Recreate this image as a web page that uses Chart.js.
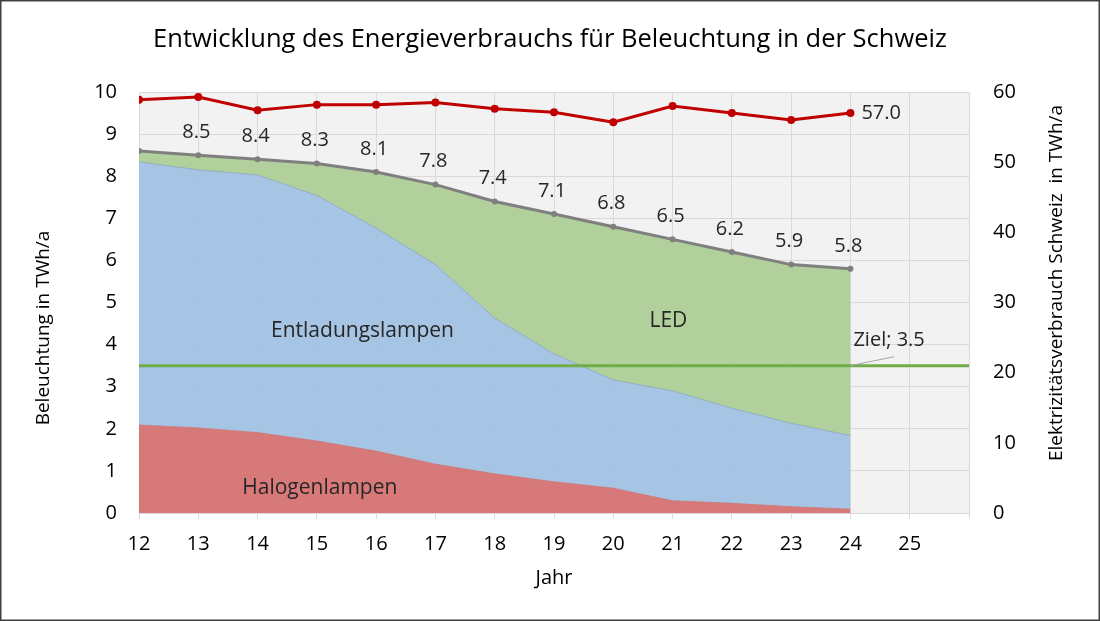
<!DOCTYPE html>
<html>
<head>
<meta charset="utf-8">
<script src="https://cdn.jsdelivr.net/npm/chart.js@4/dist/chart.umd.min.js"></script>
<style>
html,body{margin:0;padding:0;background:#fff;}
#wrap{width:1100px;height:621px;position:relative;}
canvas{display:block;}
</style>
</head>
<body>
<div id="wrap"><canvas id="c" width="1100" height="621"></canvas></div>
<script>
const FONT = "'Open Sans'";
const title = "Entwicklung des Energieverbrauchs für Beleuchtung in der Schweiz";
const years = [12, 13, 14, 15, 16, 17, 18, 19, 20, 21, 22, 23, 24];
const halogen = [2.09, 2.02, 1.91, 1.71, 1.47, 1.16, 0.93, 0.74, 0.59, 0.29, 0.23, 0.15, 0.09];
const entladung = [6.25, 6.13, 6.12, 5.83, 5.30, 4.74, 3.70, 3.04, 2.57, 2.61, 2.26, 1.98, 1.75];
const led = [0.26, 0.35, 0.37, 0.76, 1.33, 1.90, 2.77, 3.32, 3.64, 3.60, 3.71, 3.77, 3.96];
const total = [8.6, 8.5, 8.4, 8.3, 8.1, 7.8, 7.4, 7.1, 6.8, 6.5, 6.2, 5.9, 5.8];
const strom = [58.9, 59.3, 57.4, 58.2, 58.2, 58.5, 57.6, 57.1, 55.7, 58.0, 57.0, 56.0, 57.0];
const zielX = [12, 26];
const ziel = 3.5;
const xTicksMax = 26;
const leftTitle = "Beleuchtung in TWh/a";
const rightTitle = "Elektrizitätsverbrauch Schweiz  in TWh/a";
const xTitle = "Jahr";

const pts = arr => years.map((y, i) => ({x: y, y: arr[i]}));

const bgPlugin = {
  id: 'bg',
  beforeDraw(chart) {
    const {ctx, chartArea: a} = chart;
    ctx.save();
    ctx.fillStyle = '#fff';
    ctx.fillRect(0, 0, chart.width, chart.height);
    ctx.fillStyle = '#f2f2f2';
    ctx.fillRect(a.left, a.top, a.right - a.left, a.bottom - a.top);
    ctx.restore();
  },
  afterDraw(chart) {
    const {ctx, scales} = chart;
    const x = scales.x, y = scales.y, y2 = scales.y2;
    ctx.save();
    ctx.fillStyle = '#262626';
    ctx.font = '20px ' + FONT;
    ctx.textAlign = 'center';
    ctx.textBaseline = 'middle';
    total.forEach((v, i) => {
      if (i === 0) return;
      ctx.fillText(v.toFixed(1), x.getPixelForValue(years[i]) - 2, y.getPixelForValue(v) - 23);
    });
    const li = strom.length - 1;
    ctx.textAlign = 'left';
    ctx.fillText(strom[li].toFixed(1), x.getPixelForValue(years[li]) + 11, y2.getPixelForValue(strom[li]));
    ctx.font = '21px ' + FONT;
    ctx.textAlign = 'center';
    ctx.fillText('Entladungslampen', x.getPixelForValue(15.77), y.getPixelForValue(4.33));
    ctx.fillText('LED', x.getPixelForValue(20.93), y.getPixelForValue(4.55));
    ctx.fillText('Halogenlampen', x.getPixelForValue(15.05), y.getPixelForValue(0.6));
    const zx = x.getPixelForValue(24), zy = y.getPixelForValue(ziel);
    ctx.strokeStyle = '#a6a6a6';
    ctx.lineWidth = 1;
    ctx.beginPath();
    ctx.moveTo(zx, zy);
    ctx.lineTo(zx + 44, zy - 9);
    ctx.stroke();
    ctx.textAlign = 'left';
    ctx.font = '20px ' + FONT;
    ctx.fillText('Ziel; ' + ziel.toFixed(1), zx + 3, zy - 25);
    ctx.font = '19px ' + FONT;
    ctx.fillStyle = '#000';
    ctx.textAlign = 'center';
    ctx.save();
    ctx.translate(44, 328);
    ctx.rotate(-Math.PI / 2);
    ctx.fillText(leftTitle, 0, 0);
    ctx.restore();
    ctx.save();
    ctx.translate(1057, 283);
    ctx.rotate(-Math.PI / 2);
    ctx.fillText(rightTitle, 0, 0);
    ctx.restore();
    ctx.strokeStyle = '#404040';
    ctx.lineWidth = 1.5;
    ctx.strokeRect(0.75, 0.75, chart.width - 1.5, chart.height - 1.5);
    ctx.restore();
  }
};

const gridColor = '#d9d9d9';

new Chart(document.getElementById('c'), {
  type: 'line',
  data: {
    datasets: [
      {label: 'Halogenlampen', data: pts(halogen), stack: 'a', fill: 'origin',
       backgroundColor: 'rgba(214,112,112,0.93)', borderColor: 'rgba(200,110,110,0.9)', borderWidth: 0.8,
       pointRadius: 0, tension: 0, order: 3},
      {label: 'Entladungslampen', data: pts(entladung), stack: 'a', fill: '-1',
       backgroundColor: 'rgba(160,193,226,0.93)', borderColor: 'rgba(130,160,190,0.9)', borderWidth: 0.8,
       pointRadius: 0, tension: 0, order: 4},
      {label: 'LED', data: pts(led), stack: 'a', fill: '-1',
       backgroundColor: 'rgba(172,205,150,0.93)', borderColor: 'rgba(150,180,140,0.9)', borderWidth: 0.8,
       pointRadius: 0, tension: 0, order: 5},
      {label: 'Ziel', data: zielX.map(v => ({x: v, y: ziel})), stack: 'z', fill: false,
       borderColor: '#70ad47', borderWidth: 3, pointRadius: 0, order: 2},
      {label: 'Total', data: pts(total), stack: 't', fill: false,
       borderColor: '#7f7f7f', backgroundColor: '#7f7f7f', borderWidth: 3,
       pointRadius: 3, pointBorderWidth: 0, tension: 0, order: 1},
      {label: 'Elektrizitätsverbrauch', data: pts(strom), yAxisID: 'y2', fill: false,
       borderColor: '#c00000', backgroundColor: '#c00000', borderWidth: 3,
       pointRadius: 4, pointBorderWidth: 0, tension: 0, order: 0}
    ]
  },
  options: {
    responsive: false,
    animation: false,
    devicePixelRatio: 1,
    layout: {padding: 0},
    plugins: {
      legend: {display: false},
      tooltip: {enabled: false},
      title: {display: true, text: title, color: '#000',
              font: {family: FONT, size: 25.5, weight: 'normal'},
              padding: {top: 24, bottom: 37.4}}
    },
    scales: {
      x: {type: 'linear', min: 12, max: xTicksMax,
          ticks: {stepSize: 1, color: '#000', padding: 13, font: {family: FONT, size: 20},
                  callback: v => v === xTicksMax ? '' : String(v)},
          grid: {color: gridColor, tickLength: 6, drawTicks: true},
          border: {display: false},
          title: {display: true, text: xTitle, color: '#000', font: {family: FONT, size: 20}, padding: {top: 0, bottom: 31}},
          afterFit(s) { s.height = 108; }
      },
      y: {type: 'linear', position: 'left', min: 0, max: 10, stacked: true,
          ticks: {stepSize: 1, color: '#000', padding: 22, font: {family: FONT, size: 20}},
          grid: {color: gridColor, drawTicks: false},
          border: {display: false},
          afterFit(s) { s.width = 139; }
      },
      y2: {type: 'linear', position: 'right', min: 0, max: 60,
          ticks: {stepSize: 10, color: '#000', padding: 24, font: {family: FONT, size: 20}},
          grid: {display: false, drawTicks: false},
          border: {display: false},
          afterFit(s) { s.width = 131; }
      }
    }
  },
  plugins: [bgPlugin]
});
</script>
</body>
</html>
